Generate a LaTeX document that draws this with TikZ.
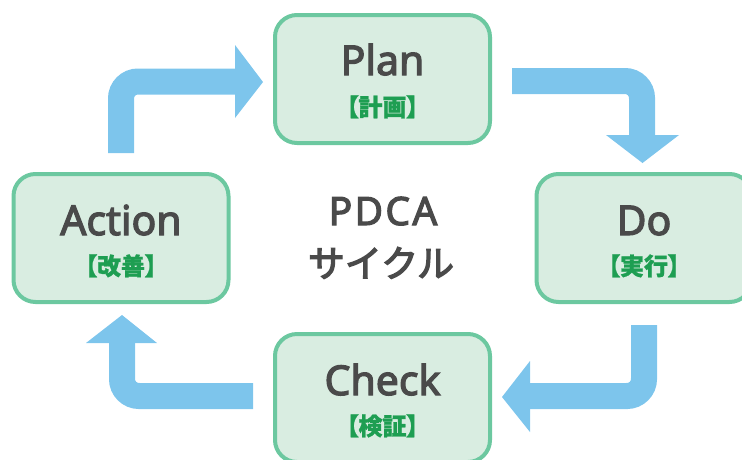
\documentclass[tikz,border=0pt]{standalone}
\usepackage{fontspec}
\usetikzlibrary{calc}
\setmainfont{Noto Sans}
\newfontfamily\titlefont[FakeBold=3]{Noto Sans}
\newfontfamily\centerfont[LetterSpace=6, FakeBold=3]{Noto Sans}
\newfontfamily\cjkmed[FakeBold=3.5]{Noto Sans CJK JP}
\newfontfamily\cjklabel[RawFeature=+palt, BoldFeatures={FakeBold=1}]{Noto Sans CJK JP}
\definecolor{boxfill}{HTML}{D9EDE1}
\definecolor{boxline}{HTML}{6CC8A0}
\definecolor{arrowblue}{HTML}{7DC5EC}
\definecolor{textgray}{HTML}{4A4A4A}
\definecolor{labelgreen}{HTML}{1E9E52}
\tikzset{
  pdcabox/.style={draw=boxline, fill=boxfill, line width=4pt, rounded corners=22pt,
    minimum width=215pt, minimum height=128pt, inner sep=0pt},
  boxtitle/.style={anchor=base, inner sep=0pt, text=textgray, font=\titlefont\fontsize{41}{41}\selectfont},
  boxlabel/.style={anchor=base, inner sep=0pt, text=labelgreen, font=\cjklabel\bfseries\fontsize{24}{24}\selectfont},
  shaft/.style={draw=arrowblue, line width=26pt, rounded corners=17pt},
  head/.style={fill=arrowblue, draw=none},
}
\begin{document}
\begin{tikzpicture}[x=1pt, y=-1pt]
\useasboundingbox (0,0) rectangle (742,459);

% boxes
\node[pdcabox] (plan)   at (382.5,79)  {};
\node[pdcabox] (action) at (121,238)   {};
\node[pdcabox] (do)     at (644,238)   {};
\node[pdcabox] (check)  at (382.5,398) {};

% box texts
\node[boxtitle] (plantitle)   at ($(plan.center)+(0,-4)$)   {Plan};
\node[boxlabel] (planlabel)   at ($(plan.center)+(0,37)$)   {【計画】};
\node[boxtitle] (actiontitle) at ($(action.center)+(0,-3)$) {Action};
\node[boxlabel] (actionlabel) at ($(action.center)+(0,37)$) {【改善】};
\node[boxtitle] (dotitle)     at ($(do.center)+(0,-3)$)     {Do};
\node[boxlabel] (dolabel)     at ($(do.center)+(0,37)$)     {【実行】};
\node[boxtitle] (checktitle)  at ($(check.center)+(0,-3)$)  {Check};
\node[boxlabel] (checklabel)  at ($(check.center)+(0,37)$)  {【検証】};

% center text
\node[anchor=base, inner sep=0pt, text=textgray, font=\centerfont\fontsize{39}{39}\selectfont] (pdca) at (383,225) {PDCA};
\node[anchor=base, inner sep=0pt, text=textgray, font=\cjkmed\fontsize{37}{37}\selectfont] (cycle) at (381,277) {サイクル};

% arrow Action -> Plan
\coordinate (a1s) at (121,153);
\coordinate (a1e) at (237,81.5);
\draw[shaft] (a1s) |- (a1e);
\fill[head] (235,45) coordinate (a1h1) -- (263,82) coordinate (a1t) -- (235,118) coordinate (a1h2) -- cycle;

% arrow Plan -> Do
\coordinate (a2s) at (512,81);
\coordinate (a2e) at (642,137);
\draw[shaft] (a2s) -| (a2e);
\fill[head] (606,135) coordinate (a2h1) -- (679,135) coordinate (a2h2) -- (642.5,163) coordinate (a2t) -- cycle;

% arrow Do -> Check
\coordinate (a3s) at (644,325);
\coordinate (a3e) at (528,396);
\draw[shaft] (a3s) |- (a3e);
\fill[head] (530,361) coordinate (a3h1) -- (502,397) coordinate (a3t) -- (530,432) coordinate (a3h2) -- cycle;

% arrow Check -> Action
\coordinate (a4s) at (253,396);
\coordinate (a4e) at (122,341);
\draw[shaft] (a4s) -| (a4e);
\fill[head] (86,343) coordinate (a4h1) -- (122,315) coordinate (a4t) -- (157,343) coordinate (a4h2) -- cycle;
\end{tikzpicture}
\end{document}
